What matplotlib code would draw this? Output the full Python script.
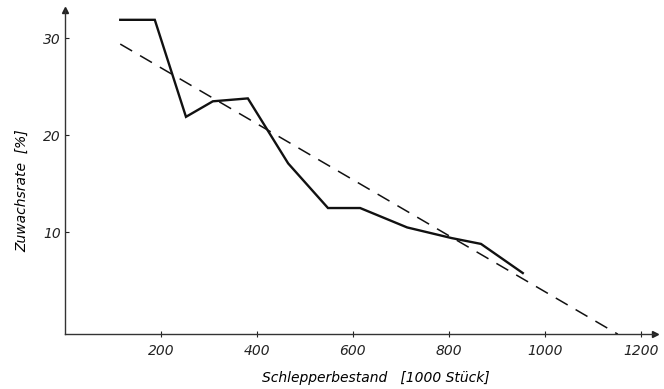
import matplotlib.pyplot as plt

# Zuwachsrate vs. Schlepperbestand
bestand = [115, 187, 252, 308, 381, 465, 548, 615, 713, 806, 867, 954]
zuwachs = [31.9, 31.9, 21.9, 23.5, 23.8, 17.1, 12.5, 12.5, 10.5, 9.4, 8.8, 5.8]

# dashed trend line (end points)
trend_x = [115, 1152]
trend_y = [29.4, -0.5]

x_ticks = [200, 400, 600, 800, 1000, 1200]
y_ticks = [10, 20, 30]

FONT = dict(family="DejaVu Sans", style="italic")

fig = plt.figure(figsize=(6.64, 3.89), dpi=100)
ax = fig.add_axes([0.098, 0.141, 0.888, 0.833])

ax.plot(bestand, zuwachs, color="#111111", lw=1.7, solid_joinstyle="miter")
ax.plot(trend_x, trend_y, color="#111111", lw=1.1, dashes=(9, 6))

ax.set_xlim(0, 1229)
ax.set_ylim(-0.5, 32.9)

for side in ("top", "right"):
    ax.spines[side].set_visible(False)
for side in ("left", "bottom"):
    ax.spines[side].set_color("#333333")
    ax.spines[side].set_linewidth(1.0)

# arrow heads at the axis ends
ax.plot(1, 0, ">", color="#222222", ms=5, transform=ax.transAxes, clip_on=False)
ax.plot(0, 1, "^", color="#222222", ms=5, transform=ax.transAxes, clip_on=False)

ax.set_xticks(x_ticks)
ax.set_yticks(y_ticks)
ax.tick_params(axis="x", direction="inout", length=4, width=0.8, pad=5,
               labelsize=10, colors="#222222")
ax.tick_params(axis="y", direction="in", length=3, width=0.8, pad=3,
               labelsize=10, colors="#222222")
for lab in ax.get_xticklabels() + ax.get_yticklabels():
    lab.set_fontstyle("italic")

fig.text(0.566, 0.028, "Schlepperbestand   [1000 Stück]", ha="center",
         va="center", fontsize=10, **FONT)
fig.text(0.033, 0.51, "Zuwachsrate  [%]", rotation=90, ha="center",
         va="center", fontsize=10, **FONT)

fig.savefig("out.png", dpi=100)
